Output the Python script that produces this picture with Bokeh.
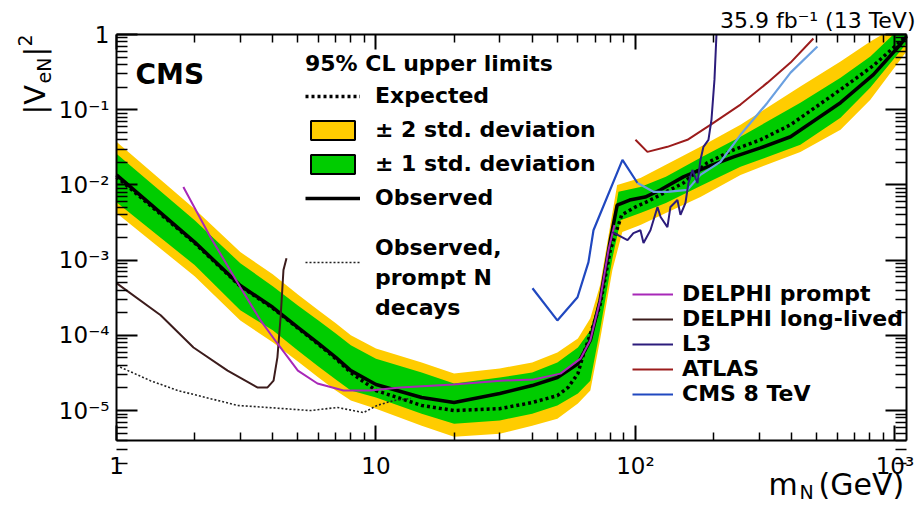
import math
from bokeh.plotting import figure
from bokeh.models import Range1d, LogAxis, FixedTicker, Legend, LegendItem, Label
from bokeh.embed import file_html
from bokeh.resources import INLINE

# ---------------- data ----------------
# observed 95% CL upper limit
m_obs = [1, 2, 3, 4, 5, 6, 7, 8, 10, 15, 20, 30, 40, 50, 60, 67, 73, 80, 85, 95,
         109, 125, 153, 189, 239, 303, 396, 617, 826, 1050, 1108]
v_obs = [1.36e-2, 1.74e-3, 4.6e-4, 2.36e-4, 1.28e-4, 7.8e-5, 5.1e-5, 3.4e-5, 2.22e-5,
         1.49e-5, 1.28e-5, 1.69e-5, 2.15e-5, 2.75e-5, 4.2e-5, 8.6e-5, 2.9e-4, 1.85e-3,
         5.4e-3, 6.3e-3, 6.9e-3, 8.6e-3, 1.28e-2, 1.74e-2, 2.36e-2, 3.11e-2, 4.37e-2,
         0.124, 0.293, 0.736, 0.94]
# expected limit
m_exp = [1, 2, 3, 4, 5, 6, 7, 8, 10, 15, 20, 30, 40, 50, 55, 60, 62.5, 73, 80, 88.5,
         100, 110, 153, 189, 239, 303, 396, 617, 826, 1050, 1108]
v_exp = [1.28e-2, 1.69e-3, 4.5e-4, 2.3e-4, 1.25e-4, 7.6e-5, 4.9e-5, 3.2e-5, 1.85e-5,
         1.17e-5, 1.0e-5, 1.06e-5, 1.28e-5, 1.58e-5, 2.03e-5, 3.1e-5, 5.1e-5, 2.5e-4,
         1.36e-3, 4.0e-3, 5.1e-3, 5.9e-3, 1.06e-2, 1.97e-2, 2.93e-2, 3.98e-2, 6.3e-2,
         0.185, 0.386, 0.81, 0.97]
# +-2 std. deviation band
m_2su = [1, 2, 3, 4, 5, 6, 7, 8, 10, 15, 20, 30, 40, 50, 60, 67, 73, 80, 85, 104.5,
         131, 178, 254, 432, 617, 804, 895, 1108]
v_2su = [3.75e-2, 4.79e-3, 1.28e-3, 6.5e-4, 3.5e-4, 2.15e-4, 1.45e-4, 1.0e-4, 6.7e-5,
         4.37e-5, 3.1e-5, 3.63e-5, 4.37e-5, 5.9e-5, 9.1e-5, 1.69e-4, 4.6e-4, 2.93e-3,
         1.0e-2, 1.24e-2, 1.85e-2, 3.21e-2, 6.3e-2, 0.203, 0.437, 0.81, 1.0, 1.0]
m_2sd = [1, 2, 3, 4, 5, 6, 7, 8, 10, 15, 20, 30, 40, 50, 60, 67, 73, 81.5, 89, 104.5,
         131, 178, 254, 432, 617, 804, 1108]
v_2sd = [4.24e-3, 6.1e-4, 1.58e-4, 8.1e-5, 4.5e-5, 2.75e-5, 1.85e-5, 1.36e-5, 1.06e-5,
         6.3e-6, 4.5e-6, 4.93e-6, 6.3e-6, 7.8e-6, 1.24e-5, 1.85e-5, 8.6e-5, 7.4e-4,
         2.36e-3, 2.93e-3, 4.24e-3, 6.9e-3, 1.36e-2, 2.75e-2, 5.41e-2, 0.136, 0.593]
# +-1 std. deviation band
m_1su = [1, 2, 3, 4, 5, 6, 7, 8, 10, 15, 20, 30, 40, 50, 60, 67, 73, 80, 86, 104.5,
         131, 178, 254, 432, 617, 804, 986, 1108]
v_1su = [2.59e-2, 3.4e-3, 9.1e-4, 4.5e-4, 2.5e-4, 1.58e-4, 1.06e-4, 7.4e-5, 4.9e-5,
         3.2e-5, 2.29e-5, 2.75e-5, 3.2e-5, 4.37e-5, 6.9e-5, 1.17e-4, 3.4e-4, 1.85e-3,
         8.1e-3, 9.4e-3, 1.28e-2, 2.29e-2, 4.37e-2, 0.124, 0.267, 0.509, 1.0, 1.0]
m_1sd = [1, 2, 3, 4, 5, 6, 7, 8, 10, 15, 20, 30, 40, 50, 60, 67, 73, 81.5, 87.6, 104.5,
         131, 178, 254, 432, 617, 804, 1108]
v_1sd = [5.9e-3, 8.6e-4, 2.15e-4, 1.17e-4, 6.3e-5, 3.86e-5, 2.59e-5, 1.85e-5, 1.49e-5,
         9.1e-6, 6.7e-6, 7.4e-6, 9.1e-6, 1.17e-5, 1.69e-5, 2.5e-5, 1.17e-4, 1.06e-3,
         3.4e-3, 4.24e-3, 5.75e-3, 9.7e-3, 1.74e-2, 3.41e-2, 7.82e-2, 0.197, 0.76]
# observed, prompt N decays
m_op = [1.0, 1.35, 1.72, 2.93, 3.82, 5.59, 7.1, 8.95, 10.1, 11.7, 13.6]
v_op = [3.98e-5, 2.5e-5, 1.85e-5, 1.17e-5, 1.10e-5, 1.0e-5, 1.10e-5, 9.4e-6, 1.17e-5,
        1.36e-5, 1.45e-5]
# DELPHI prompt
m_dp = [1.81, 2.30, 3.0, 3.59, 4.17, 5.0, 5.95, 7.5, 9.5, 12.4, 19.9, 30.2, 40.4, 51.4,
        61.4, 67, 73, 78.7, 83]
v_dp = [9.4e-3, 2.03e-3, 4.37e-4, 1.58e-4, 7.8e-5, 3.4e-5, 2.29e-5, 1.85e-5, 1.85e-5,
        2.03e-5, 2.22e-5, 2.5e-5, 2.59e-5, 3.1e-5, 4.9e-5, 8.6e-5, 2.9e-4, 1.36e-3, 2.93e-3]
# DELPHI long-lived
m_dl = [1.0, 1.48, 1.98, 2.68, 3.49, 3.82, 4.03, 4.17, 4.29, 4.40, 4.52]
v_dl = [4.94e-4, 1.85e-4, 6.9e-5, 3.4e-5, 2.03e-5, 2.03e-5, 2.5e-5, 5.1e-5, 1.74e-4,
        7.4e-4, 1.06e-3]
# L3
m_l3 = [81.5, 93.2, 98.2, 104.5, 107.4, 114.2, 121.6, 125, 132.8, 136.4, 145.1, 149.1,
        155.8, 160, 165.8, 173.4, 178, 182.8, 191.1, 196.3, 201.6, 205.2]
v_l3 = [2.36e-3, 1.85e-3, 2.29e-3, 2.5e-3, 1.69e-3, 2.5e-3, 5.1e-3, 3.74e-3, 2.75e-3,
        5.1e-3, 6.3e-3, 4.0e-3, 5.75e-3, 1.06e-2, 1.58e-2, 1.06e-2, 2.15e-2, 3.21e-2,
        3.98e-2, 7.36e-2, 0.251, 1.0]
# ATLAS
m_at = [100, 111.2, 132.8, 158.6, 194.5, 254, 322.6, 396, 485]
v_at = [3.98e-2, 2.75e-2, 3.21e-2, 3.98e-2, 6.3e-2, 0.117, 0.229, 0.423, 0.884]
# CMS 8 TeV (low-mass part, high-mass part)
m_c8a = [40.1, 50, 59.8, 65.9, 68.9, 89.1, 101.8]
v_c8a = [4.23e-4, 1.58e-4, 3.21e-4, 9.4e-4, 2.5e-3, 2.15e-2, 1.06e-2]
m_c8b = [101.8, 117.3, 132.8, 158.6, 178, 212.6, 254, 322.6, 396, 502.7]
v_c8b = [1.06e-2, 8.1e-3, 8.1e-3, 8.6e-3, 1.36e-2, 2.03e-2, 4.64e-2, 0.124, 0.311, 0.692]

x_ticks = [1, 10, 100, 1000]
x_tick_labels = ["1", "10", "10²", "10³"]
y_ticks = [1e-05, 0.0001, 0.001, 0.01, 0.1, 1]
y_tick_labels = ["10⁻⁵", "10⁻⁴", "10⁻³", "10⁻²", "10⁻¹", "1"]

# ---------------- layout geometry ----------------
W, H = 919, 510
BOX_L, BOX_R, BOX_T, BOX_B = 116, 906, 34, 440      # plot box in canvas pixels
X_LO, X_HI = 1.0, 1108.0                             # axis limits
Y_LO, Y_HI = 4e-6, 1.0
ppd_x = (BOX_R - BOX_L) / math.log10(X_HI / X_LO)
ppd_y = (BOX_B - BOX_T) / math.log10(Y_HI / Y_LO)
x_range = Range1d(X_LO * 10 ** (-BOX_L / ppd_x), X_HI * 10 ** ((W - BOX_R) / ppd_x))
y_range = Range1d(Y_LO * 10 ** (-(H - BOX_B) / ppd_y), Y_HI * 10 ** (BOX_T / ppd_y))

FONT = "DejaVu Sans"
p = figure(width=W, height=H, x_axis_type="log", y_axis_type="log",
           x_range=x_range, y_range=y_range,
           output_backend="svg", toolbar_location=None,
           min_border_left=0, min_border_right=0, min_border_top=0,
           min_border_bottom=0)
p.xgrid.visible = False
p.ygrid.visible = False
p.outline_line_color = None
p.background_fill_color = "white"
p.border_fill_color = "white"

x_minor = [k * 10.0 ** e for e in range(0, 4) for k in range(2, 10)]
y_minor = [k * 10.0 ** e for e in range(-6, 0) for k in range(2, 10)]
xt = FixedTicker(ticks=x_ticks, minor_ticks=x_minor)
yt = FixedTicker(ticks=y_ticks, minor_ticks=y_minor)


def style(ax, ticker, maj, mino, labels, ticks, loc, bounds):
    ax.ticker = ticker
    ax.fixed_location = loc
    ax.bounds = bounds
    ax.axis_line_width = 2
    ax.axis_line_color = "black"
    ax.major_tick_in = maj
    ax.major_tick_out = 0
    ax.minor_tick_in = mino
    ax.minor_tick_out = 0
    ax.major_tick_line_width = 2
    ax.minor_tick_line_width = 1.5
    ax.major_label_text_font = FONT
    ax.major_label_text_color = "black"
    if labels is None:
        ax.major_label_overrides = {t: "" for t in ticks}
        ax.major_label_text_font_size = "1px"
        ax.major_label_standoff = 0
    else:
        ax.major_label_overrides = labels
        ax.major_label_text_font_size = "23px"


style(p.xaxis[0], xt, 15, 8, dict(zip(x_ticks, x_tick_labels)), x_ticks, Y_LO, (X_LO, X_HI))
p.xaxis[0].major_label_standoff = 12
style(p.yaxis[0], yt, 21, 11, dict(zip(y_ticks, y_tick_labels)), y_ticks, X_LO, (Y_LO, Y_HI))
p.yaxis[0].major_label_standoff = 7
top_ax = LogAxis()
right_ax = LogAxis()
style(top_ax, xt, 15, 8, None, x_ticks, Y_HI, (X_LO, X_HI))
style(right_ax, yt, 21, 11, None, y_ticks, X_HI, (Y_LO, Y_HI))
p.add_layout(top_ax, "above")
p.add_layout(right_ax, "right")

# ---------------- bands ----------------
YEL = "#FFCC00"
GRN = "#00CC00"
band2_x = m_2su + m_2sd[::-1]
band2_y = v_2su + v_2sd[::-1]
band1_x = m_1su + m_1sd[::-1]
band1_y = v_1su + v_1sd[::-1]
p.patch(band2_x, band2_y, fill_color=YEL, line_color=None)
p.patch(band1_x, band1_y, fill_color=GRN, line_color=None)
# legend swatches (same polygons, hidden in the plot, outlined in the legend)
leg2 = p.patch(band2_x, band2_y, fill_color=YEL, line_color="black", line_width=2, visible=False)
leg1 = p.patch(band1_x, band1_y, fill_color=GRN, line_color="black", line_width=2, visible=False)

r_exp = p.line(m_exp, v_exp, line_color="black", line_width=3.5, line_dash="3 3")
r_obs = p.line(m_obs, v_obs, line_color="black", line_width=3.5)
r_op = p.line(m_op, v_op, line_color="#222222", line_width=1.6, line_dash="2 2")
r_blank = p.line(m_op, v_op, line_alpha=0, visible=False)

r_dl = p.line(m_dl, v_dl, line_color="#3C1C1C", line_width=2)
r_dp = p.line(m_dp, v_dp, line_color="#A828B8", line_width=2)
r_at = p.line(m_at, v_at, line_color="#9C1C1C", line_width=2)
r_c8a = p.line(m_c8a, v_c8a, line_color="#2048C0", line_width=2.2)
r_c8b = p.line(m_c8b, v_c8b, line_color="#6AA0E0", line_width=2.2)
r_l3 = p.line(m_l3, v_l3, line_color="#2C1C7C", line_width=2)

# ---------------- legends ----------------
def legend_common(lg, size="22px"):
    lg.border_line_alpha = 0
    lg.background_fill_alpha = 0
    lg.inactive_fill_alpha = 0
    lg.padding = 0
    lg.margin = 0
    lg.label_text_font = FONT
    lg.label_text_font_style = "bold"
    lg.label_text_font_size = size
    lg.label_text_color = "black"


top_leg = Legend(items=[LegendItem(label="Expected", renderers=[r_exp]),
                        LegendItem(label="± 2 std. deviation", renderers=[leg2]),
                        LegendItem(label="± 1 std. deviation", renderers=[leg1]),
                        LegendItem(label="Observed", renderers=[r_obs])],
                 location=(305, H - 210), title="95% CL upper limits")
legend_common(top_leg)
top_leg.title_text_font = FONT
top_leg.title_text_font_style = "bold"
top_leg.title_text_font_size = "22px"
top_leg.title_text_color = "black"
top_leg.title_standoff = 7
top_leg.glyph_width = 55
top_leg.glyph_height = 24
top_leg.label_height = 24
top_leg.label_standoff = 15
top_leg.spacing = 9
p.add_layout(top_leg, "center")

# three-line label of the prompt-decay limit
prompt_leg = Legend(items=[LegendItem(label="Observed,", renderers=[r_blank]),
                           LegendItem(label="prompt N", renderers=[r_blank]),
                           LegendItem(label="decays", renderers=[r_blank])],
                    location=(305, H - 322))
legend_common(prompt_leg)
prompt_leg.glyph_width = 55
prompt_leg.glyph_height = 24
prompt_leg.label_height = 30
prompt_leg.label_standoff = 15
prompt_leg.spacing = 0
p.add_layout(prompt_leg, "center")
# its line sample, between the first two lines of the label
prompt_glyph = Legend(items=[LegendItem(label=" ", renderers=[r_op])],
                      location=(305, H - 274))
legend_common(prompt_glyph)
prompt_glyph.glyph_width = 55
prompt_glyph.glyph_height = 24
prompt_glyph.label_height = 24
prompt_glyph.label_standoff = 0
p.add_layout(prompt_glyph, "center")

low_leg = Legend(items=[LegendItem(label="DELPHI prompt", renderers=[r_dp]),
                        LegendItem(label="DELPHI long-lived", renderers=[r_dl]),
                        LegendItem(label="L3", renderers=[r_l3]),
                        LegendItem(label="ATLAS", renderers=[r_at]),
                        LegendItem(label="CMS 8 TeV", renderers=[r_c8a])],
                 location=(632, H - 406))
legend_common(low_leg)
low_leg.glyph_width = 41
low_leg.glyph_height = 20
low_leg.label_height = 24
low_leg.label_standoff = 9
low_leg.spacing = 0
p.add_layout(low_leg, "center")

# ---------------- texts ----------------
def lab(text, xo, yo, size, style="normal", align="left", baseline="alphabetic",
        angle=0.0, ax=X_LO, ay=Y_HI):
    p.add_layout(Label(x=ax, y=ay, x_offset=xo, y_offset=yo, text=text,
                       text_font=FONT, text_font_size=size, text_font_style=style,
                       text_align=align, text_baseline=baseline, angle=angle,
                       text_color="black"))


# CMS (anchored at box top-left)
lab("CMS", 19, -40, "28px", "bold")
# luminosity / energy (anchored at box top-right)
lab("35.9 fb⁻¹ (13 TeV)", 9, 14, "22px", "normal", align="right", ax=X_HI, ay=Y_HI)
# x-axis title  m_N (GeV)   (anchored at box bottom-left)
lab("m", 652, -44, "30px", ax=X_LO, ay=Y_LO)
lab("N", 683, -51, "19px", ax=X_LO, ay=Y_LO)
lab("(GeV)", 702, -44, "30px", ax=X_LO, ay=Y_LO)
# y-axis title |V_eN|^2 (rotated, anchored at box top-left)
half_pi = math.pi / 2
lab("|V", -82, -80, "29px", baseline="middle", angle=half_pi)
lab("eN", -73, -49, "19px", baseline="middle", angle=half_pi)
lab("|", -82, -22, "29px", baseline="middle", angle=half_pi)
lab("2", -92, -12, "19px", baseline="middle", angle=half_pi)

open("out.html", "w").write(file_html(p, INLINE))
